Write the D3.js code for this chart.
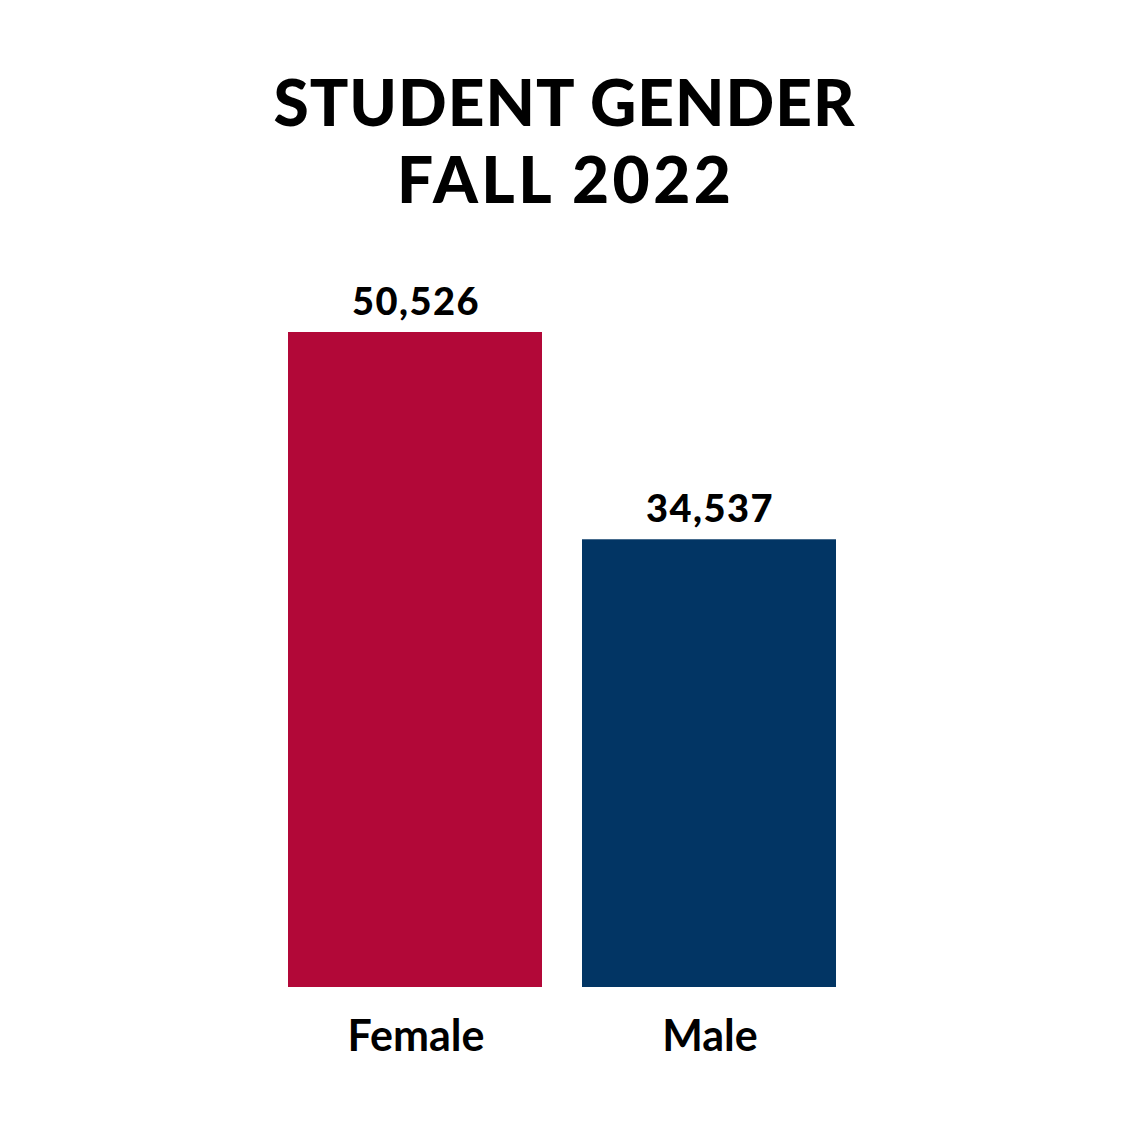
<!DOCTYPE html>
<html>
<head>
<meta charset="utf-8">
<script src="https://cdn.jsdelivr.net/npm/d3@7"></script>
<style>
  html, body { margin: 0; padding: 0; background: #fff; }
  text { font-family: "Lato", "DejaVu Sans", sans-serif; fill: #000; }
</style>
</head>
<body>
<div id="chart"></div>
<script>
// chart data
const categories = ['Female', 'Male'];
const values = [50526, 34537];
const barColors = ['#B20838', '#023564'];
const titleLines = ['STUDENT GENDER', 'FALL 2022'];

const width = 1125, height = 1125;
const titleSpacing = [1.0, 3.5]; // Futura-ish widths per title line

const svg = d3.select('#chart')
  .append('svg')
  .attr('width', width)
  .attr('height', height);

// bars sit on a baseline at y=987, tallest reaches y=332
const x = d3.scaleBand()
  .domain(categories)
  .range([288, 836])
  .paddingInner(40 / 294)
  .paddingOuter(0);

const y = d3.scaleLinear()
  .domain([0, d3.max(values)])
  .range([987, 332]);

const rows = categories.map((c, i) => ({ cat: c, value: values[i], color: barColors[i] }));

// Title
svg.selectAll('.title')
  .data(titleLines)
  .enter()
  .append('text')
  .attr('class', 'title')
  .attr('x', (d, i) => 564 + titleSpacing[i] / 2)
  .attr('y', (d, i) => 126 + i * 77)
  .attr('text-anchor', 'middle')
  .style('font-size', '64px')
  .style('font-weight', 900)
  .style('letter-spacing', (d, i) => titleSpacing[i] + 'px')
  .text(d => d);

// Bars
svg.selectAll('.bar')
  .data(rows)
  .enter()
  .append('rect')
  .attr('class', 'bar')
  .attr('x', d => x(d.cat))
  .attr('y', d => y(d.value))
  .attr('width', x.bandwidth())
  .attr('height', d => y(0) - y(d.value))
  .style('fill', d => d.color);

// Value labels
svg.selectAll('.value')
  .data(rows)
  .enter()
  .append('text')
  .attr('class', 'value')
  .attr('x', d => x(d.cat) + x.bandwidth() / 2 + 1)
  .attr('y', d => y(d.value) - 17)
  .attr('text-anchor', 'middle')
  .style('font-size', '38px')
  .style('font-weight', 900)
  .style('letter-spacing', '1.5px')
  .text(d => d3.format(',')(d.value));

// Category labels
svg.selectAll('.cat')
  .data(rows)
  .enter()
  .append('text')
  .attr('class', 'cat')
  .attr('x', d => x(d.cat) + x.bandwidth() / 2 + 1)
  .attr('y', 1051)
  .attr('text-anchor', 'middle')
  .style('font-size', '43px')
  .style('font-weight', 700)
  .text(d => d.cat);
</script>
</body>
</html>
